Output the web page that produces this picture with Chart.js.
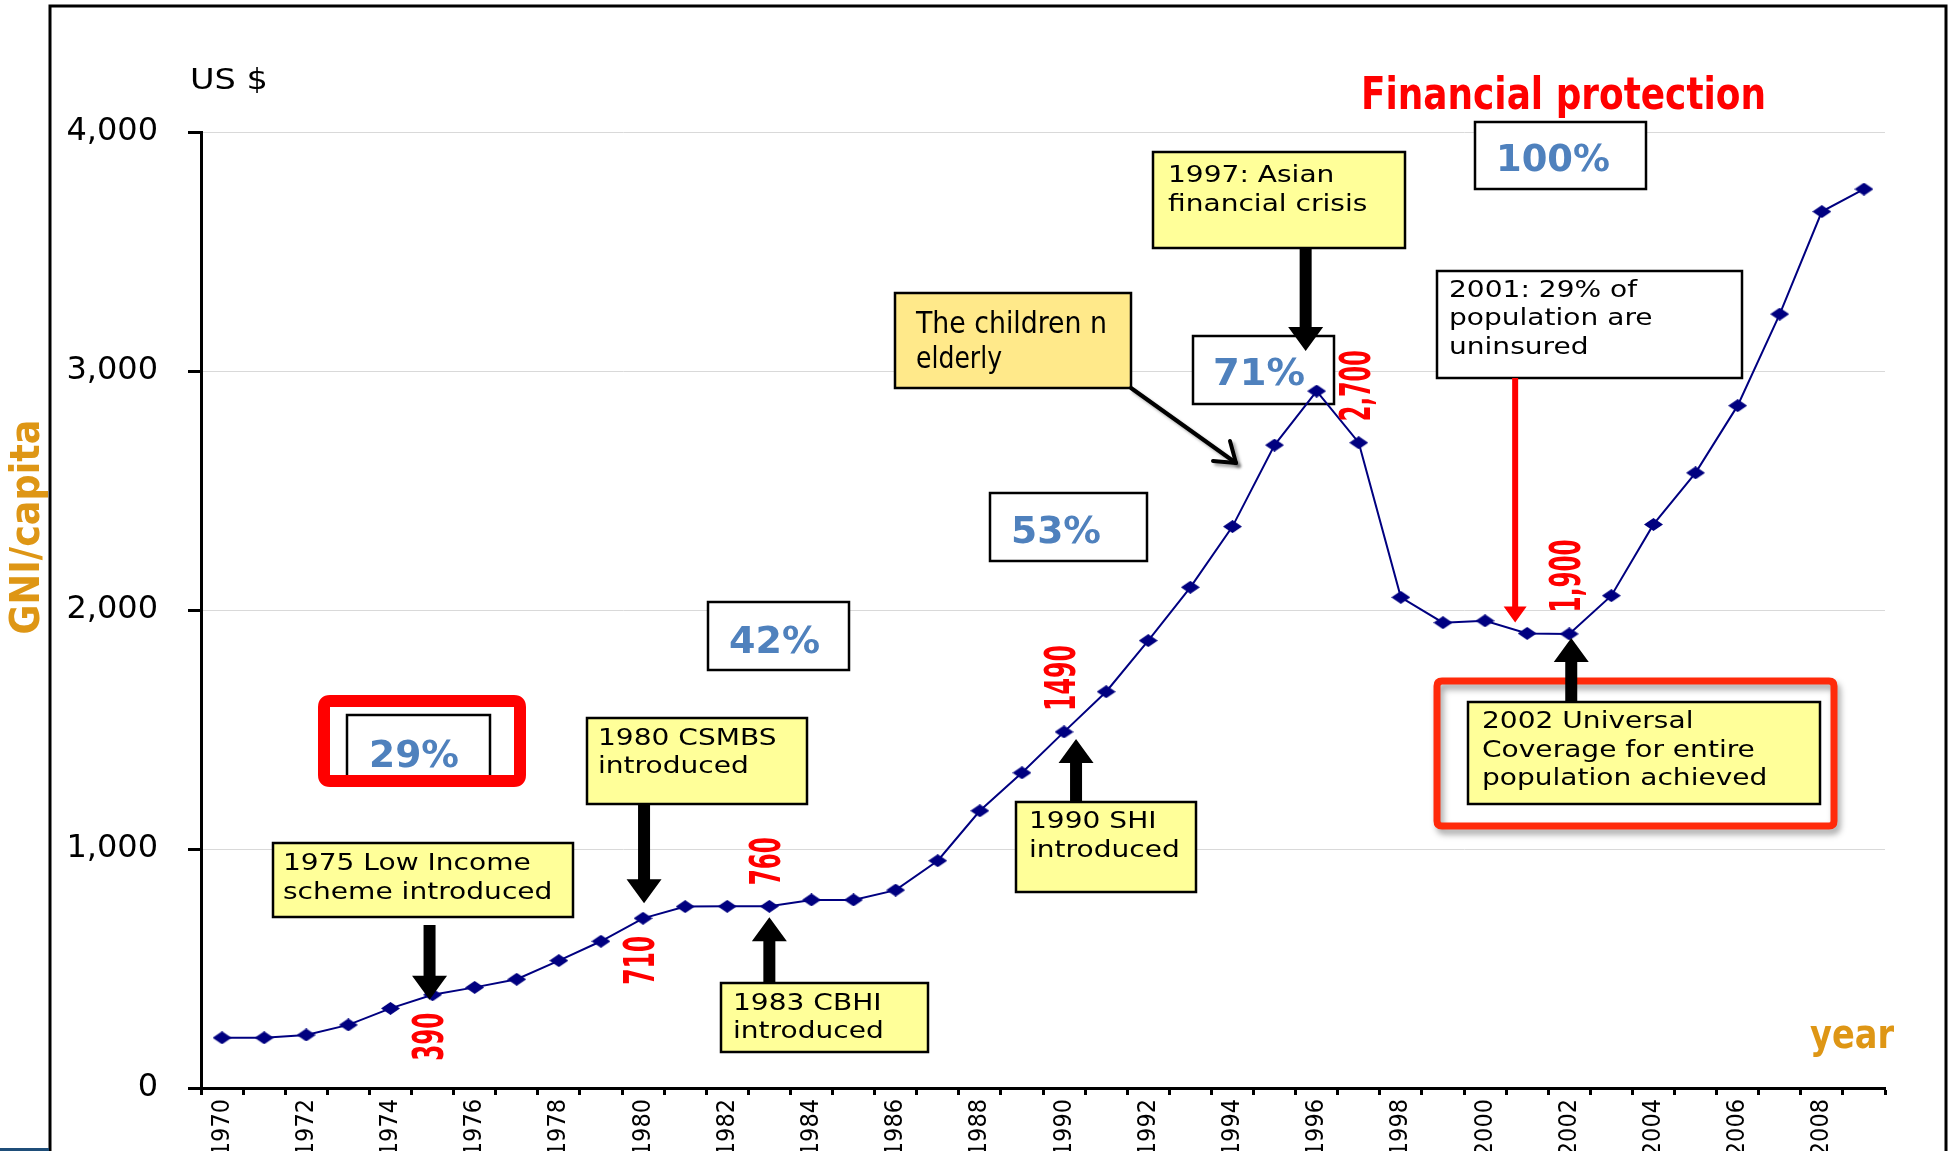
<!DOCTYPE html>
<html><head><meta charset="utf-8">
<script src="https://cdn.jsdelivr.net/npm/chart.js@4.4.1/dist/chart.umd.min.js"></script>
<style>html,body{margin:0;padding:0;background:#fff;overflow:hidden;}canvas{display:block;}</style>
</head><body>
<canvas id="c" width="1954" height="1151"></canvas>
<script>
// ---- data ----
const years = ['1970','1971','1972','1973','1974','1975','1976','1977','1978','1979',
  '1980','1981','1982','1983','1984','1985','1986','1987','1988','1989',
  '1990','1991','1992','1993','1994','1995','1996','1997','1998','1999',
  '2000','2001','2002','2003','2004','2005','2006','2007','2008','2009'];
const gniPerCapita = [210,210,222,264,333,390,421,455,533,614,
  710,759,760,760,787,787,828,951,1160,1319,
  1490,1658,1872,2095,2349,2690,2916,2700,2053,1947,
  1955,1902,1900,2060,2358,2574,2855,3238,3667,3761];
const xTickLabels = ['1970','1972','1974','1976','1978','1980','1982','1984','1986','1988',
  '1990','1992','1994','1996','1998','2000','2002','2004','2006','2008'];
const yMin = 0, yMax = 4000, yStep = 1000;
const valueLabelYears = ['1975','1980','1983','1990','1997','2002'];
const valueLabelTexts = ['390','710','760','1490','2,700','1,900'];
const coverageTexts = ['29%','42%','53%','71%','100%'];

// ---- layout of annotations (pixels) ----
const coverageBoxes = [
  {r:[347,715,490,781], tx:369, ty:767, w:90},
  {r:[708,602,849,670], tx:729, ty:653, w:91},
  {r:[990,493,1147,561], tx:1011, ty:543, w:90},
  {r:[1193,336,1334,404], tx:1213, ty:385, w:92},
  {r:[1475,122,1646,189], tx:1496, ty:171, w:114}
];
const noteBoxes = [
  {lines:['1975 Low Income','scheme introduced'], r:[273,843,573,917], tx:283, ty:[870,899], fill:'#ffff99'},
  {lines:['1980 CSMBS','introduced'], r:[587,718,807,804], tx:598, ty:[745,773], fill:'#ffff99'},
  {lines:['1983 CBHI','introduced'], r:[721,983,928,1052], tx:733, ty:[1010,1038], fill:'#ffff99'},
  {lines:['1990 SHI','introduced'], r:[1016,802,1196,892], tx:1029, ty:[828,857], fill:'#ffff99'},
  {lines:['1997: Asian','financial crisis'], r:[1153,152,1405,248], tx:1168, ty:[182,211], fill:'#ffff99'},
  {lines:['2001: 29% of','population are','uninsured'], r:[1437,271,1742,378], tx:1449, ty:[297,325,354], fill:'#ffffff'},
  {lines:['2002 Universal','Coverage for entire','population achieved'], r:[1468,702,1820,804], tx:1482, ty:[728,757,785], fill:'#ffff99'}
];
const eventArrows = [
  {year:'1975', dx:-3, dy:5, tail:925},
  {year:'1980', dx:1, dy:-15, tail:804},
  {year:'1983', dx:0, dy:11, tail:983},
  {year:'1990', dx:12, dy:7, tail:802},
  {year:'1996', dx:-11, dy:-40, tail:248},
  {year:'2002', dx:2, dy:4, tail:702}
];
const valueLabelOffsets = [42, 42, -45, -54, -57, -58];
const valueLabelLengths = [48, 49, 48, 66, 71, 73];

// ---- helpers ----
function drawText(ctx, s, x, y, font, color, o) {
  o = o || {};
  ctx.save();
  ctx.font = font; ctx.fillStyle = color;
  ctx.textAlign = 'left';
  ctx.textBaseline = o.baseline || 'alphabetic';
  const w = ctx.measureText(s).width;
  let sx = o.sx || 1;
  if (o.width) sx = o.width / w;
  ctx.translate(x, y);
  if (o.rotate) ctx.rotate(o.rotate);
  ctx.scale(sx, 1);
  ctx.fillText(s, o.center ? -w / 2 : 0, 0);
  ctx.restore();
}
function rectBox(ctx, r, fill, stroke, lw) {
  ctx.save();
  if (fill) { ctx.fillStyle = fill; ctx.fillRect(r[0], r[1], r[2] - r[0], r[3] - r[1]); }
  ctx.lineWidth = lw; ctx.strokeStyle = stroke;
  ctx.strokeRect(r[0], r[1], r[2] - r[0], r[3] - r[1]);
  ctx.restore();
}
function roundRectPath(ctx, x1, y1, x2, y2, rad) {
  ctx.beginPath();
  ctx.moveTo(x1 + rad, y1); ctx.lineTo(x2 - rad, y1); ctx.quadraticCurveTo(x2, y1, x2, y1 + rad);
  ctx.lineTo(x2, y2 - rad); ctx.quadraticCurveTo(x2, y2, x2 - rad, y2);
  ctx.lineTo(x1 + rad, y2); ctx.quadraticCurveTo(x1, y2, x1, y2 - rad);
  ctx.lineTo(x1, y1 + rad); ctx.quadraticCurveTo(x1, y1, x1 + rad, y1); ctx.closePath();
}
function blockArrow(ctx, x, yTail, yTip, shaftW, headW, headL, color) {
  const dir = Math.sign(yTip - yTail);
  const yHead = yTip - dir * headL;
  ctx.save(); ctx.fillStyle = color;
  ctx.beginPath();
  ctx.moveTo(x - shaftW / 2, yTail); ctx.lineTo(x - shaftW / 2, yHead); ctx.lineTo(x - headW / 2, yHead);
  ctx.lineTo(x, yTip); ctx.lineTo(x + headW / 2, yHead); ctx.lineTo(x + shaftW / 2, yHead);
  ctx.lineTo(x + shaftW / 2, yTail); ctx.closePath(); ctx.fill();
  ctx.restore();
}
function pointPx(chart, year) {
  const i = years.indexOf(year);
  return {x: chart.scales.x.getPixelForValue(i), y: chart.scales.y.getPixelForValue(gniPerCapita[i])};
}

// wide diamond marker
const marker = document.createElement('canvas');
marker.width = 19; marker.height = 13;
(function () {
  const m = marker.getContext('2d');
  m.fillStyle = '#000080';
  m.beginPath(); m.moveTo(9.5, 0); m.lineTo(19, 6.5); m.lineTo(9.5, 13); m.lineTo(0, 6.5); m.closePath(); m.fill();
})();

const NOTE_FONT = '23px "DejaVu Sans"';
const NOTE_SX = 1.22;
const ORANGE = '#de9615';

const annotations = {
  id: 'annotations',
  beforeDatasetsDraw(chart) {
    const ctx = chart.ctx;
    coverageBoxes.forEach((b, i) => {
      rectBox(ctx, b.r, '#ffffff', '#000000', 2.5);
      drawText(ctx, coverageTexts[i], b.tx, b.ty, 'bold 38px "DejaVu Sans"', '#4f81bd', {width: b.w});
    });
    noteBoxes.forEach(b => {
      rectBox(ctx, b.r, b.fill, '#000000', 2.5);
      b.lines.forEach((l, k) => drawText(ctx, l, b.tx, b.ty[k], NOTE_FONT, '#000000', {sx: NOTE_SX}));
    });
    rectBox(ctx, [895, 293, 1131, 388], '#ffe98a', '#000000', 2.5);
    drawText(ctx, 'The children n', 916, 333, '30px "DejaVu Sans Condensed"', '#000000', {width: 191});
    drawText(ctx, 'elderly', 916, 368, '30px "DejaVu Sans Condensed"', '#000000', {width: 86});
  },
  afterDatasetsDraw(chart) {
    const ctx = chart.ctx;
    ctx.save();
    ctx.strokeStyle = '#ff0000'; ctx.lineWidth = 12;
    roundRectPath(ctx, 324, 701, 520, 781, 6); ctx.stroke();
    ctx.restore();
    ctx.save();
    ctx.shadowColor = 'rgba(0,0,0,0.35)'; ctx.shadowBlur = 6; ctx.shadowOffsetX = 3; ctx.shadowOffsetY = 5;
    ctx.strokeStyle = '#ff2a0a'; ctx.lineWidth = 7;
    roundRectPath(ctx, 1437, 681, 1834, 826, 5); ctx.stroke();
    ctx.restore();
    eventArrows.forEach(a => {
      const p = pointPx(chart, a.year);
      blockArrow(ctx, p.x + a.dx, a.tail, p.y + a.dy, 12, 35, 24, '#000000');
    });
    const p01 = pointPx(chart, '2001');
    blockArrow(ctx, p01.x - 12, 378, p01.y - 11, 6, 23, 16, '#ff0000');
    ctx.save();
    ctx.shadowColor = 'rgba(0,0,0,0.35)'; ctx.shadowBlur = 3; ctx.shadowOffsetX = 3; ctx.shadowOffsetY = 3;
    ctx.strokeStyle = '#000'; ctx.lineWidth = 4; ctx.lineCap = 'round'; ctx.lineJoin = 'round';
    ctx.beginPath(); ctx.moveTo(1131, 388); ctx.lineTo(1236, 463); ctx.stroke();
    ctx.beginPath(); ctx.moveTo(1213, 461); ctx.lineTo(1236, 463); ctx.lineTo(1230, 441); ctx.stroke();
    ctx.restore();
    valueLabelYears.forEach((yr, i) => {
      const p = pointPx(chart, yr);
      drawText(ctx, valueLabelTexts[i], p.x, p.y + valueLabelOffsets[i], 'bold 42px "DejaVu Sans"', '#ff0000',
        {rotate: -Math.PI / 2, center: true, baseline: 'middle', width: valueLabelLengths[i]});
    });
    drawText(ctx, 'Financial protection', 1361, 109, 'bold 44px "DejaVu Sans"', '#ff0000', {width: 405});
    drawText(ctx, 'US $', 190, 89, '29px "DejaVu Sans"', '#000000', {width: 78});
    drawText(ctx, 'year', 1810, 1048, 'bold 41px "DejaVu Sans"', ORANGE, {width: 84});
    drawText(ctx, 'GNI/capita', 28, 527, 'bold 41px "DejaVu Sans"', ORANGE,
      {rotate: -Math.PI / 2, center: true, baseline: 'middle', width: 215});
    ctx.save();
    ctx.strokeStyle = '#000'; ctx.lineWidth = 3;
    ctx.beginPath(); ctx.moveTo(50, 1160); ctx.lineTo(50, 6); ctx.lineTo(1946, 6); ctx.lineTo(1946, 1160); ctx.stroke();
    ctx.strokeStyle = '#1f4e79';
    ctx.beginPath(); ctx.moveTo(0, 1149.5); ctx.lineTo(49, 1149.5); ctx.stroke();
    ctx.restore();
  }
};

new Chart(document.getElementById('c'), {
  type: 'line',
  data: {
    labels: years,
    datasets: [{
      data: gniPerCapita,
      borderColor: '#000080',
      borderWidth: 2,
      tension: 0,
      pointStyle: marker,
      pointRadius: 9,
      fill: false
    }]
  },
  options: {
    responsive: false,
    animation: false,
    devicePixelRatio: 1,
    layout: {padding: {left: 0, right: 69, top: 132, bottom: 0}},
    plugins: {legend: {display: false}, tooltip: {enabled: false}, title: {display: false}},
    scales: {
      x: {
        type: 'category',
        offset: true,
        grid: {display: true, offset: true, drawOnChartArea: false, drawTicks: true,
               tickLength: 7, tickColor: '#000', tickWidth: 3},
        border: {display: true, color: '#000', width: 3},
        ticks: {
          autoSkip: false, maxRotation: 90, minRotation: 90, padding: 4,
          color: '#000', font: {family: '"DejaVu Sans Condensed"', size: 25},
          callback: function (v) { const l = this.getLabelForValue(v); return xTickLabels.includes(l) ? l : ''; }
        },
        afterFit: s => { s.height = 63; }
      },
      y: {
        min: yMin, max: yMax,
        grid: {color: '#d9d9d9', lineWidth: 1, tickColor: '#000', tickWidth: 3, tickLength: 13},
        border: {display: true, color: '#000', width: 3},
        ticks: {stepSize: yStep, padding: 30, color: '#000', font: {family: '"DejaVu Sans"', size: 32}},
        afterFit: s => { s.width = 201; }
      }
    }
  },
  plugins: [annotations]
});
</script>
</body></html>
